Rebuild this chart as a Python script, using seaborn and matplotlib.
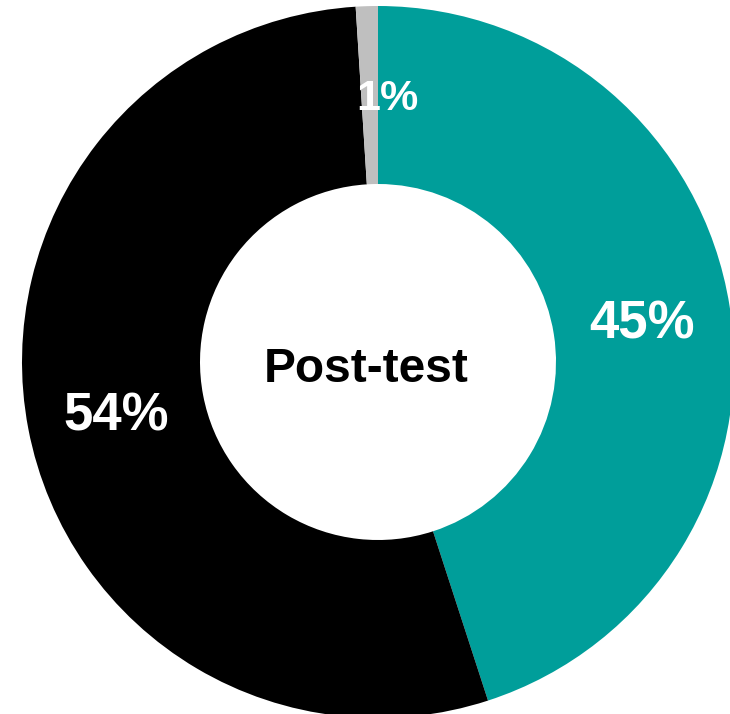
import numpy as np
import matplotlib
matplotlib.use("Agg")
import matplotlib.pyplot as plt
import seaborn as sns

# Dados
categories = ["Correct", "Incorrect", "No answer"]
shares = [45, 54, 1]
labels = ["45%", "54%", "1%"]
colors = ["#009E9A", "#000000", "#BFBFBF"]

sns.set_theme(style="white")
plt.rcParams["font.family"] = ["Liberation Sans", "DejaVu Sans"]

fig = plt.figure(figsize=(7.30, 7.14), dpi=100)
ax = fig.add_axes([22 / 730, -4 / 714, 712 / 730, 712 / 714])

wedges, _ = ax.pie(shares, colors=colors, startangle=90, counterclock=False,
                   radius=1.0, wedgeprops=dict(width=0.5, linewidth=0))

# Rótulos percentuais no meio do anel
for w, lab in zip(wedges, labels):
    ang = np.deg2rad((w.theta1 + w.theta2) / 2)
    x, y = 0.75 * np.cos(ang), 0.75 * np.sin(ang) - 0.012
    size = 38
    if lab == "1%":
        x += 0.05
        size = 31
    ax.text(x, y, lab, ha="center", va="center", color="white",
            fontsize=size, fontweight="bold")

ax.text(-0.034, -0.02, "Post-test", ha="center", va="center", color="black",
        fontsize=34.5, fontweight="bold")

ax.set_xlim(-1, 1)
ax.set_ylim(-1, 1)
ax.set_aspect("equal")
ax.axis("off")

fig.savefig("out.png", dpi=100)
